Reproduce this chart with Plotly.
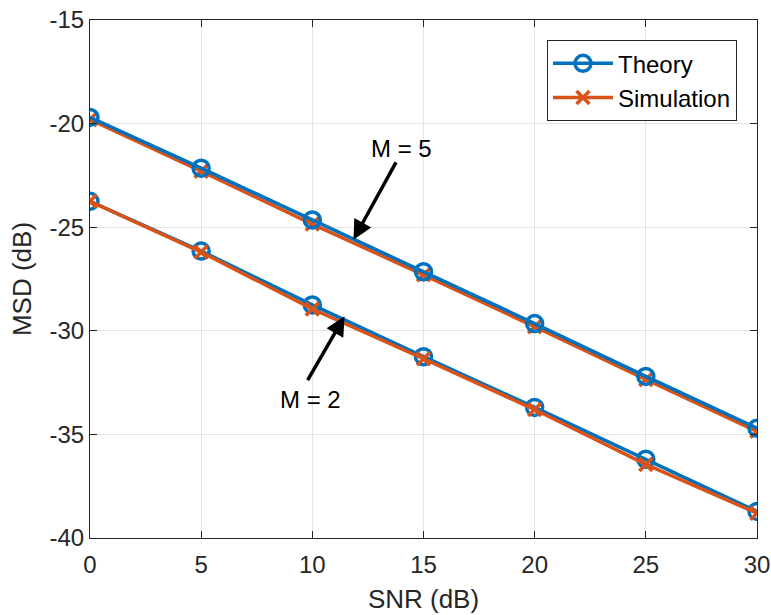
import plotly.graph_objects as go

snr = [0, 5, 10, 15, 20, 25, 30]
theory_m5 = [-19.7, -22.15, -24.65, -27.15, -29.65, -32.2, -34.7]
sim_m5 = [-19.8, -22.3, -24.85, -27.3, -29.8, -32.35, -34.85]
theory_m2 = [-23.75, -26.15, -28.75, -31.25, -33.7, -36.2, -38.72]
sim_m2 = [-23.75, -26.2, -28.95, -31.35, -33.8, -36.45, -38.8]

x_ticks = [0, 5, 10, 15, 20, 25, 30]
y_ticks = [-40, -35, -30, -25, -20, -15]
y_ticktext = ["-40", "-35", "-30", "-25", "-20", "-15"]

blue = "#0072BD"
orange = "#D95319"
font = "Liberation Sans, Arial, sans-serif"
dark = "#262626"

fig = go.Figure()
fig.add_trace(go.Scatter(x=snr, y=sim_m5, mode="lines+markers", name="Simulation",
                         line=dict(color=orange, width=3.5), showlegend=False,
                         marker=dict(symbol="x-thin", size=13, line=dict(color=orange, width=3.5))))
fig.add_trace(go.Scatter(x=snr, y=theory_m5, mode="lines+markers", name="Theory",
                         line=dict(color=blue, width=3.5), legendrank=1,
                         marker=dict(symbol="circle-open", size=16, color=blue, line=dict(width=3.5))))
fig.add_trace(go.Scatter(x=snr, y=theory_m2, mode="lines+markers", name="Theory",
                         line=dict(color=blue, width=3.5), showlegend=False,
                         marker=dict(symbol="circle-open", size=16, color=blue, line=dict(width=3.5))))
fig.add_trace(go.Scatter(x=snr, y=sim_m2, mode="lines+markers", name="Simulation",
                         line=dict(color=orange, width=3.5), legendrank=2,
                         marker=dict(symbol="x-thin", size=13, line=dict(color=orange, width=3.5))))

# arrows
fig.add_annotation(x=11.85, y=-25.6, ax=13.8, ay=-21.8, xref="x", yref="y", axref="x", ayref="y",
                   showarrow=True, arrowhead=2, arrowsize=1.1, arrowwidth=3.5, arrowcolor="black", text="")
fig.add_annotation(x=11.45, y=-29.3, ax=9.75, ay=-32.45, xref="x", yref="y", axref="x", ayref="y",
                   showarrow=True, arrowhead=2, arrowsize=1.1, arrowwidth=3.5, arrowcolor="black", text="")
fig.add_annotation(x=14.0, y=-21.2, text="M = 5", showarrow=False, font=dict(size=24, color="black", family=font))
fig.add_annotation(x=9.9, y=-33.3, text="M = 2", showarrow=False, font=dict(size=24, color="black", family=font))

axis_common = dict(showline=True, linecolor=dark, linewidth=1.2, mirror="ticks",
                   ticks="inside", ticklen=7, tickcolor=dark, tickwidth=1.2,
                   showgrid=True, gridcolor="#e3e3e3", gridwidth=1, zeroline=False,
                   ticklabeloverflow="allow", automargin=False,
                   tickfont=dict(size=24, color=dark, family=font))

fig.update_xaxes(range=[0, 30], tickvals=x_ticks, ticklabelstandoff=5,
                 title=dict(text="SNR (dB)", font=dict(size=26, color=dark, family=font), standoff=12),
                 **axis_common)
fig.update_yaxes(range=[-40, -15], tickvals=y_ticks, ticktext=y_ticktext,
                 title=dict(text="MSD (dB)", font=dict(size=26, color=dark, family=font), standoff=10),
                 **axis_common)

fig.update_layout(
    width=771, height=615,
    margin=dict(l=90, r=14, t=20, b=77),
    plot_bgcolor="white", paper_bgcolor="white",
    font=dict(family=font, size=24, color="black"),
    legend=dict(x=0.97, y=0.961, xanchor="right", yanchor="top",
                bgcolor="white", bordercolor=dark, borderwidth=1,
                font=dict(size=24, color="black", family=font),
                tracegroupgap=0, itemwidth=60),
    showlegend=True,
)

fig.write_html("out.html", config={"displayModeBar": False},
               post_script="document.body.style.margin='0';document.body.style.overflow='hidden';document.documentElement.style.overflow='hidden';")
